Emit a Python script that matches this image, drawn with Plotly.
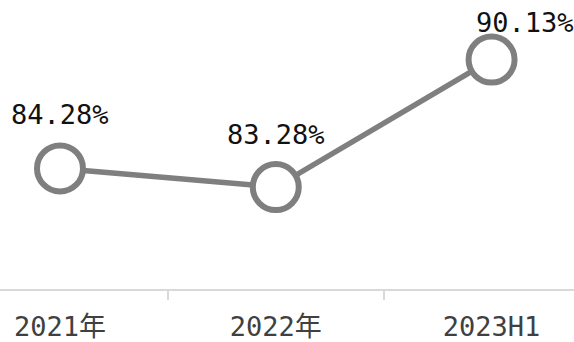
import plotly.graph_objects as go

# Period labels and rate values (%)
periods = ["2021年", "2022年", "2023H1"]
rates = [84.28, 83.28, 90.13]

LINE_GREY = "#7f7f7f"
FONT = "DejaVu Sans Mono, Noto Sans CJK SC, sans-serif"

fig = go.Figure()
fig.add_trace(go.Scatter(
    x=periods,
    y=rates,
    mode="lines+markers",
    line=dict(color=LINE_GREY, width=5.5),
    marker=dict(size=46, color="white", line=dict(color=LINE_GREY, width=6)),
    cliponaxis=False,
    hoverinfo="skip",
))

# Value labels above each point; the last one is nudged right/down to stay in view
label_shift = {0: (0, 54), 1: (0, 53), 2: (33, 37)}
for i, (p, v) in enumerate(zip(periods, rates)):
    dx, dy = label_shift[i]
    fig.add_annotation(
        x=p, y=v, text=f"{v:.2f}%", showarrow=False,
        xanchor="center", yanchor="middle",
        xshift=dx, yshift=dy,
        font=dict(family=FONT, size=27, color="#111111"),
    )

fig.update_layout(
    width=574, height=342,
    margin=dict(l=0, r=0, t=0, b=53),
    paper_bgcolor="white", plot_bgcolor="white",
    showlegend=False,
    xaxis=dict(
        type="category",
        range=[-0.278, 2.382],
        showgrid=False, zeroline=False,
        showline=True, linecolor="#d9d9d9", linewidth=2,
        ticks="outside", tickson="boundaries", ticklen=9,
        tickcolor="#d9d9d9", tickwidth=2,
        ticklabelstandoff=13,
        tickfont=dict(family=FONT, size=27, color="#404040"),
    ),
    yaxis=dict(
        range=[77.80, 93.33],
        visible=False, showgrid=False, zeroline=False,
    ),
)

fig.write_html("out.html")
